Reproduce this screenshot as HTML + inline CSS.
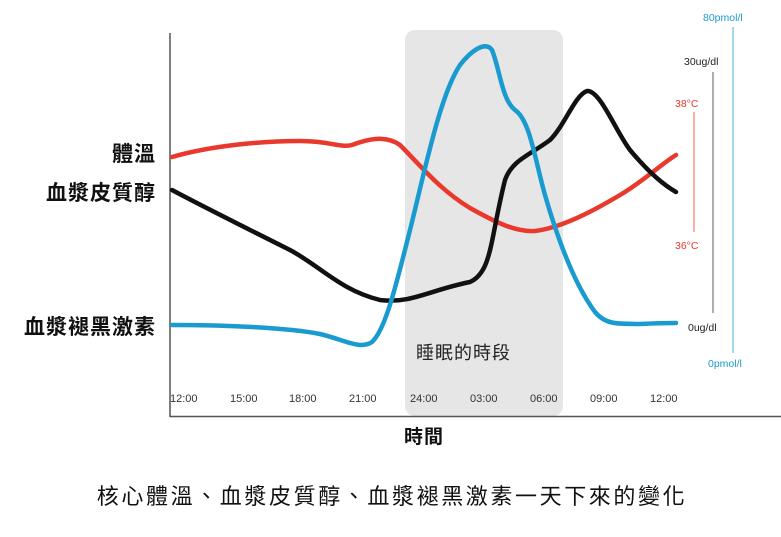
<!DOCTYPE html>
<html><head><meta charset="utf-8"><style>
body{margin:0;background:#fff;width:781px;height:532px;overflow:hidden}
svg text{font-family:"Liberation Sans","Noto Sans CJK TC",sans-serif}
</style></head><body>
<svg width="781" height="532" viewBox="0 0 781 532">
<rect x="405" y="30" width="158" height="386" rx="10" fill="#e6e6e6"/>
<line x1="170" y1="33" x2="170" y2="417" stroke="#555" stroke-width="1.5"/>
<line x1="170" y1="416.5" x2="781" y2="416.5" stroke="#555" stroke-width="1.5"/>
<path d="M172,157 C210,146 260,141 300,141 C330,141 340,148 352,145 C365,140 385,134 400,145 C420,165 440,190 470,208 C495,222 515,232 535,231 C560,228 590,213 620,195 C645,180 660,165 676,155" fill="none" stroke="#e8392c" stroke-width="4.5" stroke-linecap="round"/>
<path d="M172,190 C200,205 240,225 290,250 C320,266 340,290 380,300 C410,304 430,290 470,282 C492,272 490,240 505,180 C512,160 530,155 550,140 C565,125 575,95 587,91 C600,90 615,130 630,150 C645,168 660,183 676,192" fill="none" stroke="#111" stroke-width="4.5" stroke-linecap="round"/>
<path d="M172,325 C230,325 290,328 320,334 C345,340 360,350 372,342 C385,330 395,290 410,230 C425,170 440,95 460,65 C470,52 485,40 492,50 C500,70 502,100 515,110 C530,120 535,160 545,195 C558,240 575,285 595,312 C605,324 615,324 640,324 C660,323 670,323 676,323" fill="none" stroke="#1a9bd0" stroke-width="4.5" stroke-linecap="round"/>
<g font-size="11" fill="#333">
<text x="170" y="402">12:00</text><text x="230" y="402">15:00</text><text x="289" y="402">18:00</text><text x="349" y="402">21:00</text><text x="410" y="402">24:00</text><text x="470" y="402">03:00</text><text x="530" y="402">06:00</text><text x="590" y="402">09:00</text><text x="650" y="402">12:00</text>
</g>
<text x="416" y="359" font-size="18" fill="#222" letter-spacing="1">睡眠的時段</text>
<text x="404" y="443" font-size="19" font-weight="bold" fill="#111" letter-spacing="1">時間</text>
<g font-size="21" font-weight="bold" fill="#111" text-anchor="end" letter-spacing="1">
<text x="156" y="161">體溫</text><text x="156" y="200">血漿皮質醇</text><text x="156" y="334">血漿褪黑激素</text>
</g>
<text x="392" y="504" font-size="22" fill="#111" text-anchor="middle" letter-spacing="2.6">核心體溫、血漿皮質醇、血漿褪黑激素一天下來的變化</text>
<line x1="733" y1="27" x2="733" y2="353" stroke="#1a9bd0" stroke-width="0.8"/>
<line x1="713" y1="72" x2="713" y2="313" stroke="#333" stroke-width="0.8"/>
<line x1="694" y1="112" x2="694" y2="232" stroke="#e8392c" stroke-width="0.8"/>
<g font-size="10.5">
<text x="703" y="21" fill="#1a9bd0">80pmol/l</text>
<text x="684" y="65" fill="#222">30ug/dl</text>
<text x="675" y="107" fill="#e8392c">38°C</text>
<text x="675" y="249" fill="#e8392c">36°C</text>
<text x="688" y="331" fill="#222">0ug/dl</text>
<text x="708" y="367" fill="#1a9bd0">0pmol/l</text>
</g>
</svg>
</body></html>
